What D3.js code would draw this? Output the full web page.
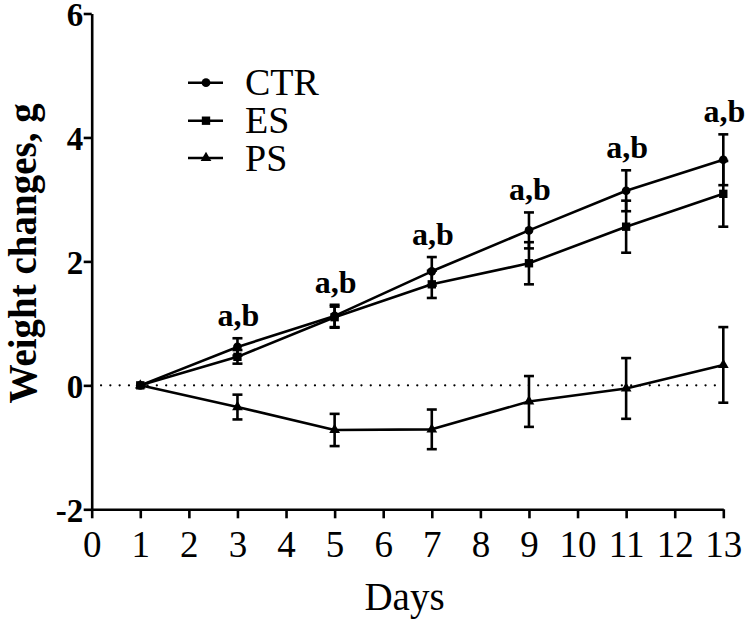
<!DOCTYPE html>
<html>
<head>
<meta charset="utf-8">
<script src="https://cdn.jsdelivr.net/npm/d3@7"></script>
<style>
  html, body { margin: 0; padding: 0; background: #ffffff; }
  svg { display: block; }
</style>
</head>
<body>
<svg id="chart" width="750" height="625"></svg>
<script>
// ---- Data ----
const days = [1, 3, 5, 7, 9, 11, 13];
const ctrMean = [0, 0.62, 1.12, 1.84, 2.50, 3.14, 3.64];
const ctrErr  = [0, 0.14, 0.18, 0.23, 0.29, 0.33, 0.41];
const esMean  = [0, 0.46, 1.10, 1.63, 1.97, 2.56, 3.09];
const esErr   = [0, 0.11, 0.17, 0.22, 0.34, 0.42, 0.53];
const psMean  = [0, -0.35, -0.72, -0.71, -0.26, -0.05, 0.33];
const psErr   = [0, 0.20, 0.26, 0.32, 0.41, 0.49, 0.61];
const seriesNames = ["CTR", "ES", "PS"];
const seriesSymbols = ["circle", "square", "triangle"];
const annotDays = [3, 5, 7, 9, 11, 13];
const annotText = "a,b";
const xTicks = [0,1,2,3,4,5,6,7,8,9,10,11,12,13];
const yTicks = [-2, 0, 2, 4, 6];
const xTitle = "Days";
const yTitle = "Weight changes, g";

const series = [
  { name: seriesNames[0], sym: seriesSymbols[0], mean: ctrMean, err: ctrErr },
  { name: seriesNames[1], sym: seriesSymbols[1], mean: esMean,  err: esErr },
  { name: seriesNames[2], sym: seriesSymbols[2], mean: psMean,  err: psErr }
];

const FONT = '"Liberation Serif"';
const svg = d3.select("#chart");
const x = d3.scaleLinear().domain([0, 13]).range([91.7, 723.3]);
const y = d3.scaleLinear().domain([-2, 6]).range([509.3, 13.5]);

const SW = 2.6;

// zero reference dotted line
svg.append("line")
  .attr("x1", x(0)).attr("x2", x(13))
  .attr("y1", y(0)).attr("y2", y(0))
  .attr("stroke", "#000").attr("stroke-width", 2.2)
  .attr("stroke-linecap", "round")
  .attr("stroke-dasharray", "0.1,9.2");

// axes
const xAxis = svg.append("g")
  .attr("transform", `translate(0,${y(-2)})`)
  .call(d3.axisBottom(x).tickValues(xTicks).tickSize(9).tickSizeOuter(0).tickFormat((d) => String(d)));
xAxis.attr("font-family", null).attr("font-size", null);
xAxis.select(".domain").attr("stroke-width", SW);
xAxis.selectAll(".tick line").attr("stroke-width", SW);
xAxis.selectAll(".tick text")
  .style("font-family", FONT).style("font-size", "37px")
  .attr("dy", 0).attr("y", 47.5);

const yAxis = svg.append("g")
  .attr("transform", `translate(${x(0)},0)`)
  .call(d3.axisLeft(y).tickValues(yTicks).tickSize(8).tickSizeOuter(0).tickFormat((d) => String(d)));
yAxis.attr("font-family", null).attr("font-size", null);
yAxis.select(".domain").attr("stroke-width", SW);
yAxis.selectAll(".tick line").attr("stroke-width", SW);
yAxis.selectAll(".tick text")
  .style("font-family", FONT).style("font-size", "33px").style("font-weight", "bold")
  .attr("x", -8.5).attr("dy", "0.36em");
svg.selectAll(".domain, .tick line").attr("stroke", "#000");

// axis titles
svg.append("text")
  .attr("x", (x(0) + x(13)) / 2 - 3).attr("y", 610)
  .attr("text-anchor", "middle")
  .style("font-family", FONT).style("font-size", "39px")
  .text(xTitle);

svg.append("text")
  .attr("transform", `translate(36,${(y(6) + y(-2)) / 2 - 8}) rotate(-90)`)
  .attr("text-anchor", "middle")
  .style("font-family", FONT).style("font-size", "39px").style("font-weight", "bold")
  .text(yTitle);

// lines
const lineGen = d3.line().x((d) => x(d[0])).y((d) => y(d[1]));
series.forEach((s) => {
  svg.append("path")
    .datum(days.map((d, i) => [d, s.mean[i]]))
    .attr("d", lineGen)
    .attr("fill", "none").attr("stroke", "#000").attr("stroke-width", SW)
    .attr("stroke-linejoin", "round");
});

// error bars
const capW = 5;
series.forEach((s) => {
  const g = svg.append("g");
  days.forEach((d, i) => {
    if (s.err[i] <= 0) return;
    const lo = y(s.mean[i] - s.err[i]), hi = y(s.mean[i] + s.err[i]);
    g.append("line").attr("x1", x(d)).attr("x2", x(d)).attr("y1", lo).attr("y2", hi)
      .attr("stroke", "#000").attr("stroke-width", SW);
    [lo, hi].forEach((yy) => {
      g.append("line").attr("x1", x(d) - capW).attr("x2", x(d) + capW).attr("y1", yy).attr("y2", yy)
        .attr("stroke", "#000").attr("stroke-width", SW);
    });
  });
});

// markers
const symMap = { circle: d3.symbolCircle, square: d3.symbolSquare, triangle: d3.symbolTriangle };
const symSize = { circle: 60, square: 70, triangle: 50 };
function drawMarker(g, sym, cx, cy) {
  g.append("path")
    .attr("d", d3.symbol().type(symMap[sym]).size(symSize[sym])())
    .attr("transform", `translate(${cx},${cy})`)
    .attr("fill", "#000");
}
series.forEach((s) => {
  const g = svg.append("g");
  days.forEach((d, i) => drawMarker(g, s.sym, x(d), y(s.mean[i])));
});

// significance annotations above CTR error bars
annotDays.forEach((d) => {
  const i = days.indexOf(d);
  svg.append("text")
    .attr("x", x(d) + 1)
    .attr("y", y(ctrMean[i] + ctrErr[i]) - 12)
    .attr("text-anchor", "middle")
    .style("font-family", FONT).style("font-size", "32px").style("font-weight", "bold")
    .text(annotText);
});

// legend
const legend = svg.append("g");
const legendRows = [82.7, 120.7, 158];
series.forEach((s, i) => {
  const ry = legendRows[i];
  legend.append("line").attr("x1", 188).attr("x2", 223).attr("y1", ry).attr("y2", ry)
    .attr("stroke", "#000").attr("stroke-width", SW);
  drawMarker(legend, s.sym, 206, ry);
  legend.append("text").attr("x", 245).attr("y", ry + 12.5)
    .style("font-family", FONT).style("font-size", "38px")
    .text(s.name);
});
</script>
</body>
</html>
